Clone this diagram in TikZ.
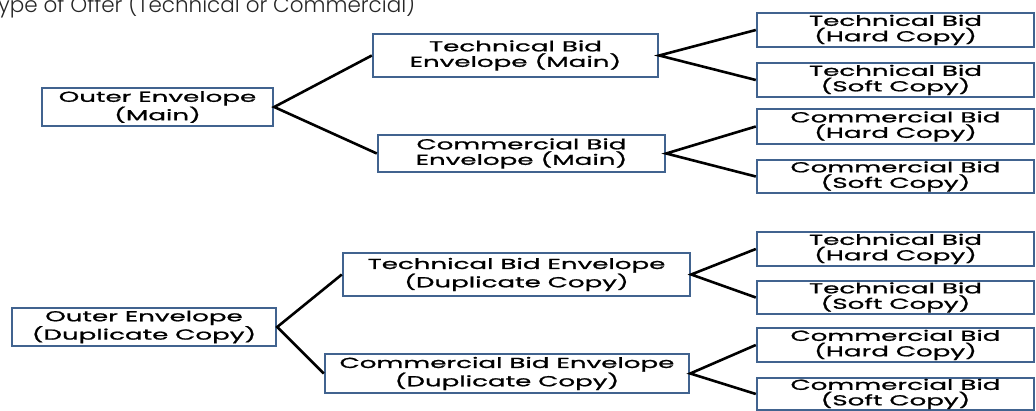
\documentclass[tikz,border=0pt]{standalone}
\usepackage{fontspec}
\newfontfamily\boxfont[FakeStretch=1.8,FakeBold=1.2]{Poppins}
\newfontfamily\titlefont{Poppins Light}
\definecolor{boxedge}{HTML}{41638F}
\begin{document}
\begin{tikzpicture}[x=1pt,y=-1pt,
  bidbox/.style={draw=boxedge, line width=2.4pt, fill=white, align=center,
    inner sep=0pt, font=\boxfont\fontsize{14.5}{15.5}\selectfont},
  link/.style={draw=black, line width=2.6pt}]
\useasboundingbox (0,0) rectangle (1036,411);
\clip (0,0) rectangle (1036,411);

% heading
\node[anchor=base west, inner sep=0pt, text=black!85,
  font=\titlefont\fontsize{21.5}{23}\selectfont] (title) at (-2,13)
  {ype of Offer (Technical or Commercial)};

% main set
\node[bidbox, minimum width=231pt, minimum height=38pt] (om) at (157.5,107) {Outer Envelope\\(Main)};
\node[bidbox, minimum width=285pt, minimum height=43pt] (tm) at (515.5,55.5) {Technical Bid\\Envelope (Main)};
\node[bidbox, minimum width=287pt, minimum height=37pt] (cm) at (521.5,153.5) {Commercial Bid\\Envelope (Main)};
\node[bidbox, minimum width=277pt, minimum height=34pt] (th1) at (895.5,30) {Technical Bid\\(Hard Copy)};
\node[bidbox, minimum width=277pt, minimum height=34pt] (ts1) at (895.5,80) {Technical Bid\\(Soft Copy)};
\node[bidbox, minimum width=277pt, minimum height=35pt] (ch1) at (895.5,126.5) {Commercial Bid\\(Hard Copy)};
\node[bidbox, minimum width=277pt, minimum height=33pt] (cs1) at (895.5,176.5) {Commercial Bid\\(Soft Copy)};

% duplicate set
\node[bidbox, minimum width=264pt, minimum height=38pt] (od) at (144,327) {Outer Envelope\\(Duplicate Copy)};
\node[bidbox, minimum width=347pt, minimum height=43pt] (td) at (516.5,274.5) {Technical Bid Envelope\\(Duplicate Copy)};
\node[bidbox, minimum width=364pt, minimum height=39pt] (cd) at (507,373.5) {Commercial Bid Envelope\\(Duplicate Copy)};
\node[bidbox, minimum width=277pt, minimum height=34pt] (th2) at (895.5,249) {Technical Bid\\(Hard Copy)};
\node[bidbox, minimum width=277pt, minimum height=33pt] (ts2) at (895.5,297.5) {Technical Bid\\(Soft Copy)};
\node[bidbox, minimum width=277pt, minimum height=34pt] (ch2) at (895.5,345) {Commercial Bid\\(Hard Copy)};
\node[bidbox, minimum width=277pt, minimum height=32pt] (cs2) at (895.5,394) {Commercial Bid\\(Soft Copy)};

% connectors
\draw[link] (tm.west) -- (om.east) -- (cm.west);
\draw[link] (th1.west) -- (tm.east) -- (ts1.west);
\draw[link] (ch1.west) -- (cm.east) -- (cs1.west);
\draw[link] (td.west) -- (od.east) -- (cd.west);
\draw[link] (th2.west) -- (td.east) -- (ts2.west);
\draw[link] (ch2.west) -- (cd.east) -- (cs2.west);
\end{tikzpicture}
\end{document}
